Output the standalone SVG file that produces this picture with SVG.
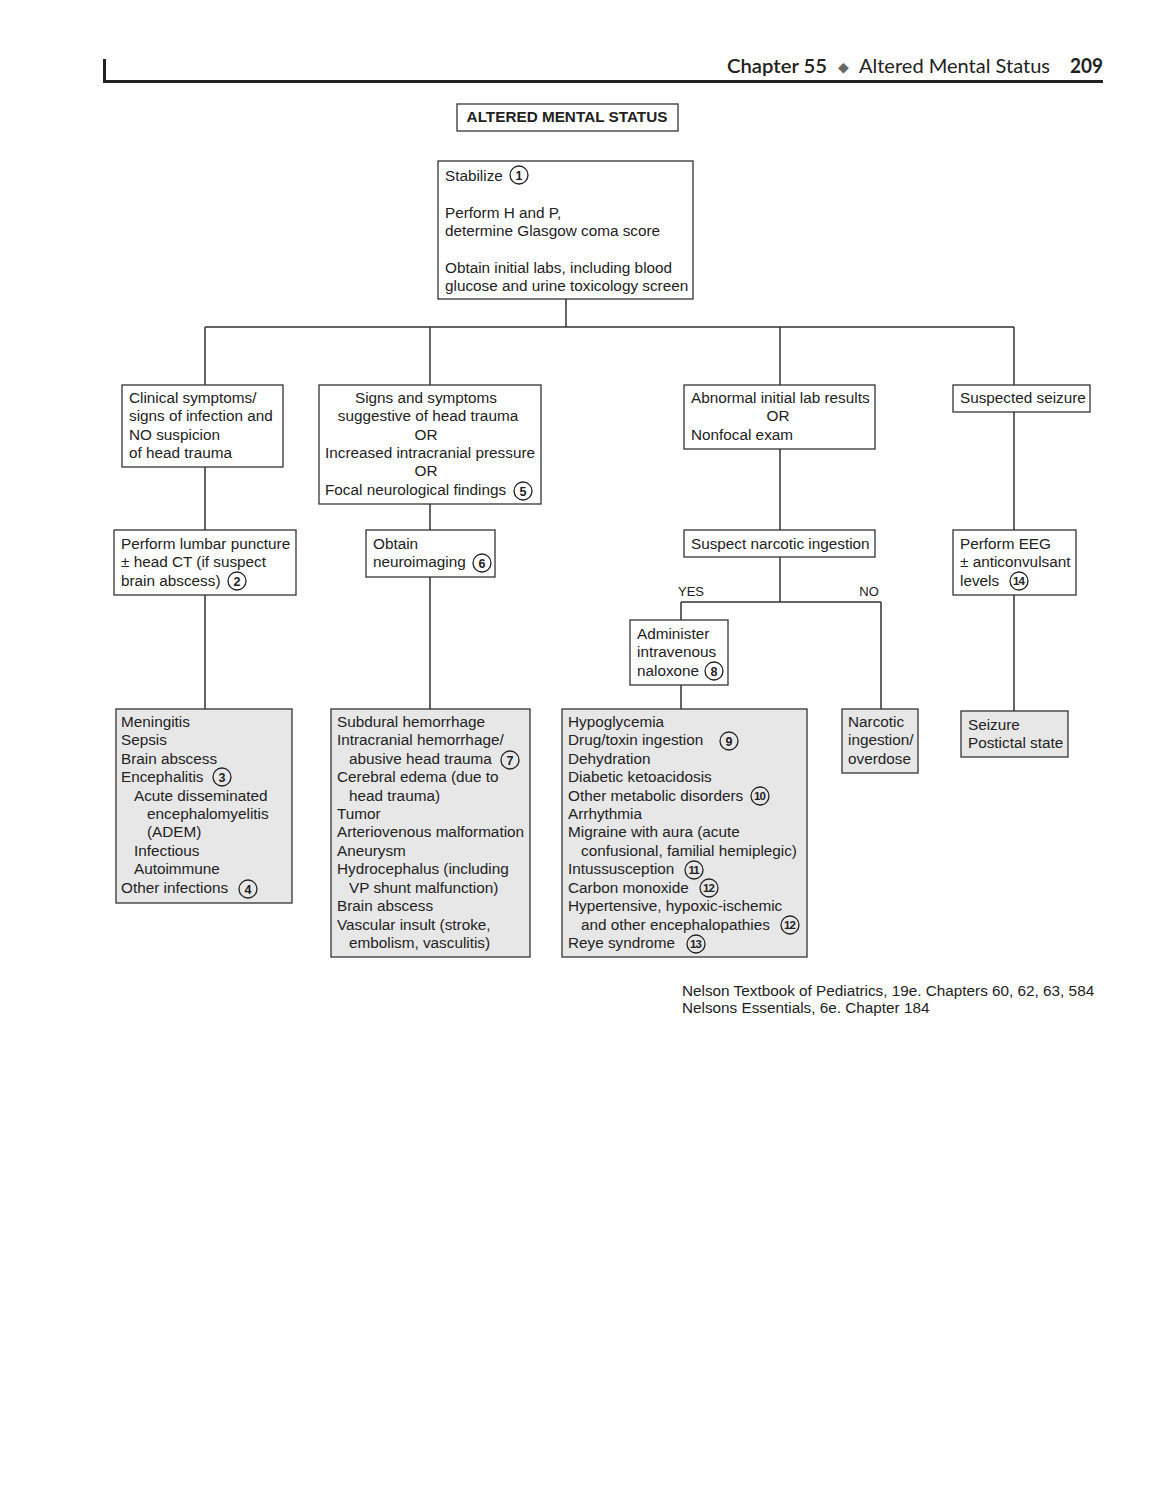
<svg xmlns="http://www.w3.org/2000/svg" width="1172" height="1500" viewBox="0 0 1172 1500">
<style>
text{font-family:"Liberation Sans",Arial,sans-serif;font-size:15.3px;fill:#222}
.box{fill:#fff;stroke:#333;stroke-width:1.3}
.gbox{fill:#e7e7e7;stroke:#333;stroke-width:1.3}
.ln{fill:none;stroke:#333;stroke-width:1.5}
.c{fill:none;stroke:#222;stroke-width:1.3}
.n{font-size:12.5px;font-weight:bold;text-anchor:middle}
.n2{font-size:11.5px;font-weight:bold;text-anchor:middle;letter-spacing:-1px}
.mid{text-anchor:middle}
.hdr{font-family:Lato,"Open Sans",sans-serif;font-size:20px;fill:#222}
</style>
<rect width="1172" height="1500" fill="#fff"/>
<g id="header">
<rect x="103" y="59" width="3" height="24" fill="#222"/>
<rect x="103" y="80" width="1000" height="3" fill="#222"/>
<text class="hdr" x="727" y="73" textLength="100" lengthAdjust="spacingAndGlyphs" style="font-weight:600">Chapter 55</text>
<text class="hdr" x="843" y="72" text-anchor="middle" style="font-size:14px;fill:#666">◆</text>
<text class="hdr" x="859" y="73" textLength="191" lengthAdjust="spacingAndGlyphs">Altered Mental Status</text>
<text class="hdr" x="1070" y="73" textLength="33" lengthAdjust="spacingAndGlyphs" style="font-weight:bold">209</text>
</g>
<g id="connectors">
<path class="ln" d="M566 299V327M205 327H1014M205 327V385M430 327V385M780 327V385M1014 327V385"/>
<path class="ln" d="M205 467V530M430 504V530M780 449V530M1014 412V530"/>
<path class="ln" d="M205 595V709M430 577V709M780 557V602M681 602H881M681 602V620M881 602V709M681 685V709M1014 595V711"/>
<text x="691" y="596" class="mid" style="font-size:13px">YES</text>
<text x="869" y="596" class="mid" style="font-size:13px">NO</text>
</g>
<g id="title">
<rect class="box" x="457" y="104" width="221" height="27"/>
<text x="567" y="122" class="mid" style="font-weight:bold">ALTERED MENTAL STATUS</text>
</g>
<g id="stabilize">
<rect class="box" x="438" y="161" width="255" height="138"/>
<text x="445" y="181">Stabilize</text>
<circle class="c" cx="519" cy="175" r="9"/><text class="n" x="519" y="179.5">1</text>
<text x="445" y="218">Perform H and P,</text>
<text x="445" y="236">determine Glasgow coma score</text>
<text x="445" y="273">Obtain initial labs, including blood</text>
<text x="445" y="291">glucose and urine toxicology screen</text>
</g>
<g id="infection">
<rect class="box" x="122" y="385" width="161" height="82"/>
<text x="129" y="403">Clinical symptoms/</text>
<text x="129" y="421">signs of infection and</text>
<text x="129" y="440">NO suspicion</text>
<text x="129" y="458">of head trauma</text>
</g>
<g id="headtrauma">
<rect class="box" x="319" y="385" width="222" height="119"/>
<text x="426" y="403" class="mid">Signs and symptoms</text>
<text x="428" y="421" class="mid">suggestive of head trauma</text>
<text x="426" y="440" class="mid">OR</text>
<text x="430" y="458" class="mid">Increased intracranial pressure</text>
<text x="426" y="476" class="mid">OR</text>
<text x="325" y="495">Focal neurological findings</text>
<circle class="c" cx="523" cy="491" r="9"/><text class="n" x="523" y="495.5">5</text>
</g>
<g id="abnormallabs">
<rect class="box" x="684" y="385" width="191" height="64"/>
<text x="691" y="403">Abnormal initial lab results</text>
<text x="778" y="421" class="mid">OR</text>
<text x="691" y="440">Nonfocal exam</text>
</g>
<g id="seizure">
<rect class="box" x="953" y="385" width="137" height="27"/>
<text x="960" y="403">Suspected seizure</text>
</g>
<g id="lumbar">
<rect class="box" x="114" y="530" width="182" height="65"/>
<text x="121" y="549">Perform lumbar puncture</text>
<text x="121" y="567">± head CT (if suspect</text>
<text x="121" y="586">brain abscess)</text>
<circle class="c" cx="237" cy="581" r="9"/><text class="n" x="237" y="585.5">2</text>
</g>
<g id="neuroimaging">
<rect class="box" x="366" y="530" width="129" height="47"/>
<text x="373" y="549">Obtain</text>
<text x="373" y="567">neuroimaging</text>
<circle class="c" cx="482" cy="563" r="9"/><text class="n" x="482" y="567.5">6</text>
</g>
<g id="narcotic">
<rect class="box" x="684" y="530" width="191" height="27"/>
<text x="691" y="549">Suspect narcotic ingestion</text>
</g>
<g id="eeg">
<rect class="box" x="953" y="530" width="123" height="65"/>
<text x="960" y="549">Perform EEG</text>
<text x="960" y="567">± anticonvulsant</text>
<text x="960" y="586">levels</text>
<circle class="c" cx="1019" cy="581" r="9"/><text class="n2" x="1018.5" y="585">14</text>
</g>
<g id="naloxone">
<rect class="box" x="630" y="620" width="98" height="65"/>
<text x="637" y="639">Administer</text>
<text x="637" y="657">intravenous</text>
<text x="637" y="676">naloxone</text>
<circle class="c" cx="714" cy="671" r="9"/><text class="n" x="714" y="675.5">8</text>
</g>
<g id="infections-dx">
<rect class="gbox" x="116" y="709" width="176" height="194"/>
<text x="121" y="727">Meningitis</text>
<text x="121" y="745">Sepsis</text>
<text x="121" y="764">Brain abscess</text>
<text x="121" y="782">Encephalitis</text>
<circle class="c" cx="222" cy="777" r="9"/><text class="n" x="222" y="781.5">3</text>
<text x="134" y="801">Acute disseminated</text>
<text x="147" y="819">encephalomyelitis</text>
<text x="147" y="837">(ADEM)</text>
<text x="134" y="856">Infectious</text>
<text x="134" y="874">Autoimmune</text>
<text x="121" y="893">Other infections</text>
<circle class="c" cx="248" cy="889" r="9"/><text class="n" x="248" y="893.5">4</text>
</g>
<g id="trauma-dx">
<rect class="gbox" x="331" y="709" width="199" height="248"/>
<text x="337" y="727">Subdural hemorrhage</text>
<text x="337" y="745">Intracranial hemorrhage/</text>
<text x="349" y="764">abusive head trauma</text>
<circle class="c" cx="510" cy="760" r="9"/><text class="n" x="510" y="764.5">7</text>
<text x="337" y="782">Cerebral edema (due to</text>
<text x="349" y="801">head trauma)</text>
<text x="337" y="819">Tumor</text>
<text x="337" y="837">Arteriovenous malformation</text>
<text x="337" y="856">Aneurysm</text>
<text x="337" y="874">Hydrocephalus (including</text>
<text x="349" y="893">VP shunt malfunction)</text>
<text x="337" y="911">Brain abscess</text>
<text x="337" y="930">Vascular insult (stroke,</text>
<text x="349" y="948">embolism, vasculitis)</text>
</g>
<g id="metabolic-dx">
<rect class="gbox" x="562" y="709" width="245" height="248"/>
<text x="568" y="727">Hypoglycemia</text>
<text x="568" y="745">Drug/toxin ingestion</text>
<circle class="c" cx="729" cy="741" r="9"/><text class="n" x="729" y="745.5">9</text>
<text x="568" y="764">Dehydration</text>
<text x="568" y="782">Diabetic ketoacidosis</text>
<text x="568" y="801">Other metabolic disorders</text>
<circle class="c" cx="760" cy="796" r="9"/><text class="n2" x="759.5" y="800">10</text>
<text x="568" y="819">Arrhythmia</text>
<text x="568" y="837">Migraine with aura (acute</text>
<text x="581" y="856">confusional, familial hemiplegic)</text>
<text x="568" y="874">Intussusception</text>
<circle class="c" cx="694" cy="870" r="9"/><text class="n2" x="693.5" y="874">11</text>
<text x="568" y="893">Carbon monoxide</text>
<circle class="c" cx="709" cy="888" r="9"/><text class="n2" x="708.5" y="892">12</text>
<text x="568" y="911">Hypertensive, hypoxic-ischemic</text>
<text x="581" y="930">and other encephalopathies</text>
<circle class="c" cx="790" cy="925" r="9"/><text class="n2" x="789.5" y="929">12</text>
<text x="568" y="948">Reye syndrome</text>
<circle class="c" cx="696" cy="944" r="9"/><text class="n2" x="695.5" y="948">13</text>
</g>
<g id="overdose-dx">
<rect class="gbox" x="842" y="709" width="76" height="64"/>
<text x="848" y="727">Narcotic</text>
<text x="848" y="745">ingestion/</text>
<text x="848" y="764">overdose</text>
</g>
<g id="seizure-dx">
<rect class="gbox" x="961" y="711" width="107" height="46"/>
<text x="968" y="730">Seizure</text>
<text x="968" y="748">Postictal state</text>
</g>
<g id="references">
<text x="682" y="996">Nelson Textbook of Pediatrics, 19e. Chapters 60, 62, 63, 584</text>
<text x="682" y="1013">Nelsons Essentials, 6e. Chapter 184</text>
</g>
</svg>
